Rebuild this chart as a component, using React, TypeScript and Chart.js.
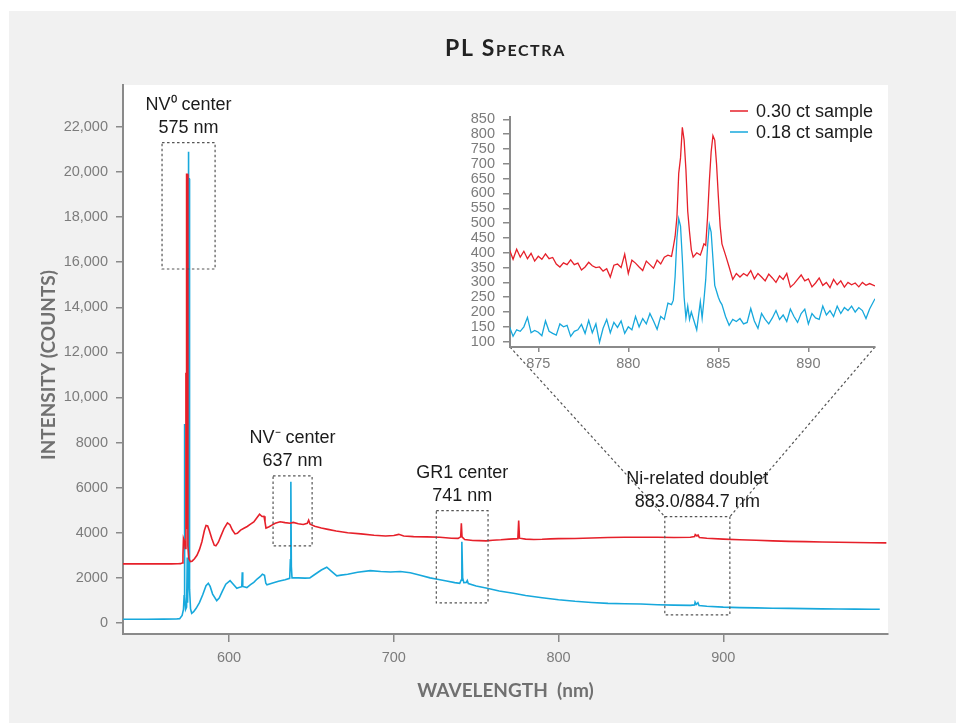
import { useEffect, useRef } from "react";
import { Chart, registerables } from "chart.js";

Chart.register(...registerables);

// ---------------- data ----------------
const SERIES_LABELS = ["0.30 ct sample", "0.18 ct sample"];

const RED_WL = [535.5, 545, 555, 565, 569, 570.5, 571.5, 572.0, 572.3, 572.9, 573.4, 573.8, 574.0, 574.2, 574.7, 575.0, 575.6, 576.5, 577.5, 579, 580.5, 582, 583.5, 585, 586, 587, 588, 589.5, 591, 592, 593.5, 595, 597, 599, 600.5, 602, 603.6, 605, 607, 609, 611, 613, 615, 617, 618.5, 620, 621.2, 621.8, 622.4, 624, 626, 628, 631, 634, 637, 639, 642, 645, 647.5, 648.3, 649.2, 652, 656, 660, 665, 672, 680, 688, 695, 700, 703, 706, 712, 720, 728, 735, 739, 740.6, 741.0, 741.4, 743, 748, 752, 756, 760, 765, 770, 775.3, 775.8, 776.3, 780, 785, 790, 795, 800, 810, 820, 830, 840, 850, 860, 870, 880, 882.6, 883.0, 884.0, 884.7, 885.5, 890, 900, 910, 920, 930, 940, 950, 960, 970, 980, 990, 999];
const RED_COUNTS = [2620, 2620, 2622, 2620, 2625, 2630, 2660, 3000, 3750, 3620, 3300, 11100, 4200, 19900, 19900, 3400, 2850, 2720, 2740, 2850, 3000, 3250, 3600, 4100, 4320, 4300, 4100, 3750, 3450, 3420, 3580, 3850, 4200, 4440, 4360, 4120, 3950, 3980, 4120, 4200, 4280, 4380, 4480, 4680, 4820, 4720, 4730, 4480, 4210, 4260, 4340, 4420, 4490, 4450, 4420, 4460, 4400, 4370, 4420, 4560, 4380, 4290, 4210, 4150, 4080, 4000, 3950, 3890, 3860, 3880, 3930, 3860, 3830, 3820, 3800, 3760, 3750, 3820, 4420, 3820, 3700, 3660, 3650, 3640, 3670, 3690, 3720, 3740, 4540, 3760, 3720, 3700, 3710, 3730, 3740, 3745, 3770, 3790, 3800, 3800, 3800, 3790, 3800, 3830, 3920, 3860, 3900, 3790, 3760, 3720, 3690, 3665, 3640, 3620, 3605, 3590, 3580, 3570, 3560, 3550];

const BLUE_WL = [535.5, 550, 560, 568, 570, 571.5, 572.3, 572.7, 572.9, 573.1, 573.6, 574.2, 574.6, 574.8, 575.1, 575.3, 575.5, 575.8, 576.0, 576.6, 577.3, 578.5, 580, 582, 584, 586, 587.4, 588.5, 590, 592.5, 594, 596, 598, 600.6, 602, 604.7, 606, 607.7, 608, 608.3, 610.8, 613, 615, 617, 619, 620.2, 621.5, 622.3, 623, 626, 630, 634, 636.8, 637.2, 637.5, 637.8, 638.2, 642, 646, 649, 652, 656, 659.3, 662, 665.4, 668, 672, 678, 685.7, 692, 698, 704, 710, 716, 722, 726.4, 732, 737, 740, 740.9, 741.3, 741.8, 742.5, 744, 744.6, 745.2, 750, 756.7, 764, 772.6, 780, 790, 800, 810, 820, 830, 840, 850, 860, 870, 880, 882.6, 882.9, 883.6, 884.6, 885.3, 890, 900, 910, 920, 930, 940, 950, 960, 970, 980, 990, 995];
const BLUE_COUNTS = [165, 165, 168, 172, 190, 330, 600, 1200, 8820, 1200, 600, 700, 2900, 900, 1800, 20900, 19700, 19700, 1500, 620, 430, 500, 650, 900, 1250, 1650, 1760, 1620, 1280, 990, 1100, 1420, 1720, 1877, 1760, 1540, 1570, 1610, 2250, 1620, 1570, 1700, 1800, 1950, 2060, 2160, 2110, 1760, 1690, 1760, 1850, 1920, 1980, 2800, 6260, 2500, 2000, 2000, 1990, 2000, 2150, 2350, 2470, 2300, 2090, 2120, 2160, 2250, 2320, 2280, 2260, 2280, 2230, 2120, 2000, 1940, 1860, 1790, 1760, 1900, 3600, 2000, 1790, 1800, 1880, 1750, 1640, 1540, 1420, 1320, 1220, 1120, 1030, 960, 910, 870, 850, 840, 810, 790, 780, 800, 920, 820, 900, 770, 740, 700, 680, 668, 655, 645, 635, 625, 618, 612, 607, 605];

const X_TICKS = [600, 700, 800, 900];
const Y_TICKS = [0, 2000, 4000, 6000, 8000, 10000, 12000, 14000, 16000, 18000, 20000, 22000];

const INSET_WL = [873.4, 873.6, 873.8, 874.0, 874.2, 874.4, 874.6, 874.8, 875.0, 875.2, 875.4, 875.6, 875.8, 876.0, 876.2, 876.4, 876.6, 876.8, 877.0, 877.2, 877.4, 877.6, 877.8, 878.0, 878.2, 878.4, 878.6, 878.8, 879.0, 879.2, 879.4, 879.6, 879.8, 880.0, 880.2, 880.4, 880.6, 880.8, 881.0, 881.2, 881.4, 881.6, 881.8, 882.0, 882.2, 882.4,
  882.5, 882.6, 882.7, 882.8, 882.9, 883.0, 883.1, 883.2, 883.3, 883.4, 883.5, 883.6,
  883.8, 884.0,
  884.1, 884.2, 884.3, 884.4, 884.5, 884.6, 884.7, 884.8, 884.9, 885.0, 885.1, 885.2,
  885.4, 885.6, 885.8, 886.0, 886.2, 886.4, 886.6, 886.8, 887.0, 887.2, 887.4, 887.6, 887.8, 888.0, 888.2, 888.4, 888.6, 888.8, 889.0, 889.2, 889.4, 889.6, 889.8, 890.0, 890.2, 890.4, 890.6, 890.8, 891.0, 891.2, 891.4, 891.6, 891.8, 892.0, 892.2, 892.4, 892.6, 892.8, 893.0, 893.2, 893.4, 893.7];
const INSET_RED = [410, 378, 412, 385, 405, 380, 398, 372, 388, 378, 396, 380, 384, 362, 352, 366, 360, 376, 360, 365, 342, 352, 368, 356, 350, 352, 338, 346, 318, 358, 362, 350, 395, 330, 375, 365, 352, 340, 372, 360, 348, 375, 362, 385, 392, 388,
  420, 455, 520, 668, 720, 823, 780, 680, 540, 470, 410, 385,
  400, 392,
  410, 430, 425, 520, 640, 740, 795, 780, 700, 590, 490, 430,
  392, 352, 310, 330, 318, 330, 322, 340, 312, 330, 318, 305, 328, 315, 300, 322, 310, 330, 284, 295, 310, 325, 305, 312, 285, 298, 315, 290, 300, 282, 310, 292, 305, 284, 300, 292, 298, 285, 300, 290, 296, 288];
const INSET_BLUE = [150, 118, 140, 135, 150, 182, 130, 138, 132, 120, 170, 135, 128, 122, 160, 150, 155, 118, 135, 140, 158, 128, 172, 130, 160, 98, 145, 175, 130, 165, 148, 170, 128, 150, 140, 185, 150, 178, 160, 195, 170, 142, 185, 175, 230, 225,
  240, 320, 450, 515, 490, 380, 250, 180, 220, 175, 200, 180,
  140, 235,
  180, 240, 310, 420, 495, 470, 380, 290, 270, 250, 235, 225,
  185, 155, 175, 168, 178, 160, 165, 212, 170, 145, 195, 175, 160, 180, 205, 175, 190, 168, 210, 185, 165, 195, 210, 160, 195, 180, 175, 220, 190, 205, 185, 220, 195, 215, 205, 220, 200, 215, 205, 178, 210, 245];
const INSET_X_TICKS = [875, 880, 885, 890];
const INSET_Y_TICKS = [100, 150, 200, 250, 300, 350, 400, 450, 500, 550, 600, 650, 700, 750, 800, 850];

// callout boxes (data units) and their labels
const CALLOUTS = [
  { lines: ["NV⁰ center", "575 nm"], x0: 559.3, x1: 591.5, y0: 15700, y1: 21300 },
  { lines: ["NV⁻ center", "637 nm"], x0: 626.7, x1: 650.4, y0: 3415, y1: 6519 },
  { lines: ["GR1 center", "741 nm"], x0: 725.8, x1: 757.2, y0: 887, y1: 4980 },
  { lines: ["Ni-related doublet", "883.0/884.7 nm"], x0: 864.5, x1: 904, y0: 355, y1: 4714 },
];

// ---------------- styles ----------------
const RED = "#e6202a";
const BLUE = "#17a8dc";
const AXIS = "#8a8a8a";
const TICK_TEXT = "#7c7c7c";
const SANS = "'Liberation Sans', Arial, Helvetica, sans-serif";
const HUMANIST = "Lato, 'Open Sans', sans-serif";

const INSET_LEFT = 440;
const INSET_TOP = 88;
const INSET_W = 460;
const INSET_H = 300;

function fmtCount(v: number) {
  const s = String(v);
  return v >= 10000 ? s.replace(/\B(?=(\d{3})+(?!\d))/g, ",") : s;
}

function pts(xs: number[], ys: number[]) {
  return xs.map((x, i) => ({ x, y: ys[i] }));
}

function axisCommon(ticksArr: number[], tickLen: number, pad: number, fmt?: (v: number) => string) {
  return {
    afterBuildTicks: (scale: any) => {
      scale.ticks = ticksArr.map((v) => ({ value: v }));
    },
    grid: {
      display: true,
      drawOnChartArea: false,
      drawTicks: true,
      tickLength: tickLen,
      color: AXIS,
      lineWidth: 1.5,
    },
    border: { display: true, color: AXIS, width: 2 },
    ticks: {
      autoSkip: false,
      maxRotation: 0,
      padding: pad,
      color: TICK_TEXT,
      font: { family: SANS, size: 14.5 },
      callback: (v: any) => (fmt ? fmt(Number(v)) : String(v)),
    },
  };
}

function makeMainDecor(getInset: () => Chart | null) {
  return {
    id: "mainDecor",
    beforeDraw(chart: any) {
      const { ctx, chartArea: a, width, height } = chart;
      ctx.save();
      ctx.fillStyle = "#ffffff";
      ctx.fillRect(0, 0, width, height);
      ctx.fillStyle = "#f1f1f1";
      ctx.fillRect(9, 11, width - 9, height - 11);
      ctx.fillStyle = "#ffffff";
      ctx.fillRect(a.left, a.top, a.right - a.left, a.bottom - a.top);
      ctx.restore();
    },
    afterDatasetsDraw(chart: any) {
      const { ctx } = chart;
      const xs = chart.scales.x;
      const ys = chart.scales.y;
      ctx.save();
      ctx.strokeStyle = "#555555";
      ctx.lineWidth = 1.2;
      ctx.setLineDash([2.5, 2.5]);
      const boxes = CALLOUTS.map((c) => {
        const l = xs.getPixelForValue(c.x0);
        const r = xs.getPixelForValue(c.x1);
        const t = ys.getPixelForValue(c.y1);
        const b = ys.getPixelForValue(c.y0);
        ctx.strokeRect(l, t, r - l, b - t);
        return { l, r, t, b };
      });
      const inset = getInset();
      if (inset) {
        const ia = inset.chartArea;
        const ni = boxes[3];
        ctx.beginPath();
        ctx.moveTo(INSET_LEFT + ia.left, INSET_TOP + ia.bottom);
        ctx.lineTo(ni.l, ni.t);
        ctx.moveTo(INSET_LEFT + ia.right, INSET_TOP + ia.bottom);
        ctx.lineTo(ni.r, ni.t);
        ctx.stroke();
      }
      ctx.setLineDash([]);
      ctx.fillStyle = "#1b1b1b";
      ctx.font = `18px ${SANS}`;
      ctx.textAlign = "center";
      ctx.textBaseline = "alphabetic";
      CALLOUTS.forEach((c, k) => {
        const bx = boxes[k];
        const cx = (bx.l + bx.r) / 2;
        const n = c.lines.length;
        c.lines.forEach((line, i) => {
          ctx.fillText(line, cx, bx.t - 10 - (n - 1 - i) * 23);
        });
      });
      ctx.restore();
    },
    afterDraw(chart: any) {
      const { ctx, chartArea: a } = chart;
      ctx.save();
      // title
      ctx.fillStyle = "#222222";
      ctx.font = `small-caps bold 23px ${HUMANIST}`;
      try {
        (ctx as any).fontVariantCaps = "small-caps";
        (ctx as any).letterSpacing = "1.6px";
      } catch (e) {}
      ctx.textAlign = "center";
      ctx.textBaseline = "alphabetic";
      ctx.fillText("PL Spectra", (a.left + a.right) / 2, 56);
      try {
        (ctx as any).fontVariantCaps = "normal";
        (ctx as any).letterSpacing = "0px";
      } catch (e) {}
      // axis titles
      ctx.fillStyle = "#707070";
      ctx.font = `bold 19px ${HUMANIST}`;
      ctx.fillText("WAVELENGTH  (nm)", (a.left + a.right) / 2, 697);
      ctx.translate(55, 365);
      ctx.rotate(-Math.PI / 2);
      ctx.fillText("INTENSITY (COUNTS)", 0, 0);
      ctx.restore();
    },
  };
}

const insetLegend = {
  id: "insetLegend",
  afterDraw(chart: any) {
    const { ctx, chartArea: a } = chart;
    ctx.save();
    ctx.font = `18px ${SANS}`;
    ctx.textAlign = "left";
    ctx.textBaseline = "alphabetic";
    chart.data.datasets.forEach((ds: any, i: number) => {
      const y = a.top - 6 + i * 21;
      ctx.strokeStyle = ds.borderColor;
      ctx.lineWidth = 1.5;
      ctx.beginPath();
      ctx.moveTo(a.right - 145, y);
      ctx.lineTo(a.right - 127, y);
      ctx.stroke();
      ctx.fillStyle = "#1b1b1b";
      ctx.fillText(ds.label, a.right - 119, y + 6);
    });
    ctx.restore();
  },
};

export default function App() {
  const mainRef = useRef<HTMLCanvasElement>(null);
  const insetRef = useRef<HTMLCanvasElement>(null);

  useEffect(() => {
    if (!mainRef.current || !insetRef.current) return;
    const inset = new Chart(insetRef.current, {
      type: "line",
      data: {
        datasets: [
          { label: SERIES_LABELS[0], data: pts(INSET_WL, INSET_RED), borderColor: RED, backgroundColor: RED, borderWidth: 1.3, pointRadius: 0, tension: 0 },
          { label: SERIES_LABELS[1], data: pts(INSET_WL, INSET_BLUE), borderColor: BLUE, backgroundColor: BLUE, borderWidth: 1.3, pointRadius: 0, tension: 0 },
        ],
      },
      options: {
        responsive: false,
        animation: false,
        devicePixelRatio: 1,
        layout: { padding: { top: 29, right: 25, left: 0, bottom: 0 } },
        plugins: { legend: { display: false }, tooltip: { enabled: false }, title: { display: false } },
        scales: {
          x: {
            type: "linear",
            min: 873.43,
            max: 893.7,
            ...axisCommon(INSET_X_TICKS, 5, 3),
            afterFit: (s: any) => {
              s.height = 41;
            },
          },
          y: {
            type: "linear",
            min: 82,
            max: 858,
            ...axisCommon(INSET_Y_TICKS, 7, 8),
            afterFit: (s: any) => {
              s.width = 70;
            },
          },
        },
      } as any,
      plugins: [insetLegend],
    });

    const main = new Chart(mainRef.current, {
      type: "line",
      data: {
        datasets: [
          { label: SERIES_LABELS[0], data: pts(RED_WL, RED_COUNTS), borderColor: RED, backgroundColor: RED, borderWidth: 1.6, pointRadius: 0, tension: 0 },
          { label: SERIES_LABELS[1], data: pts(BLUE_WL, BLUE_COUNTS), borderColor: BLUE, backgroundColor: BLUE, borderWidth: 1.6, pointRadius: 0, tension: 0 },
        ],
      },
      options: {
        responsive: false,
        animation: false,
        devicePixelRatio: 1,
        layout: { padding: { top: 85, right: 68, left: 0, bottom: 0 } },
        plugins: { legend: { display: false }, tooltip: { enabled: false }, title: { display: false } },
        scales: {
          x: {
            type: "linear",
            min: 535.6,
            max: 1000,
            ...axisCommon(X_TICKS, 8, 7),
            afterFit: (s: any) => {
              s.height = 89;
            },
          },
          y: {
            type: "linear",
            min: -490,
            max: 23860,
            ...axisCommon(Y_TICKS, 7, 8, fmtCount),
            afterFit: (s: any) => {
              s.width = 123;
            },
          },
        },
      } as any,
      plugins: [makeMainDecor(() => inset)],
    });

    return () => {
      main.destroy();
      inset.destroy();
    };
  }, []);

  return (
    <div style={{ position: "absolute", left: 0, top: 0, width: 956, height: 723 }}>
      <canvas
        ref={mainRef}
        width={956}
        height={723}
        style={{ position: "absolute", left: 0, top: 0, width: 956, height: 723 }}
      />
      <canvas
        ref={insetRef}
        width={INSET_W}
        height={INSET_H}
        style={{ position: "absolute", left: INSET_LEFT, top: INSET_TOP, width: INSET_W, height: INSET_H }}
      />
    </div>
  );
}
